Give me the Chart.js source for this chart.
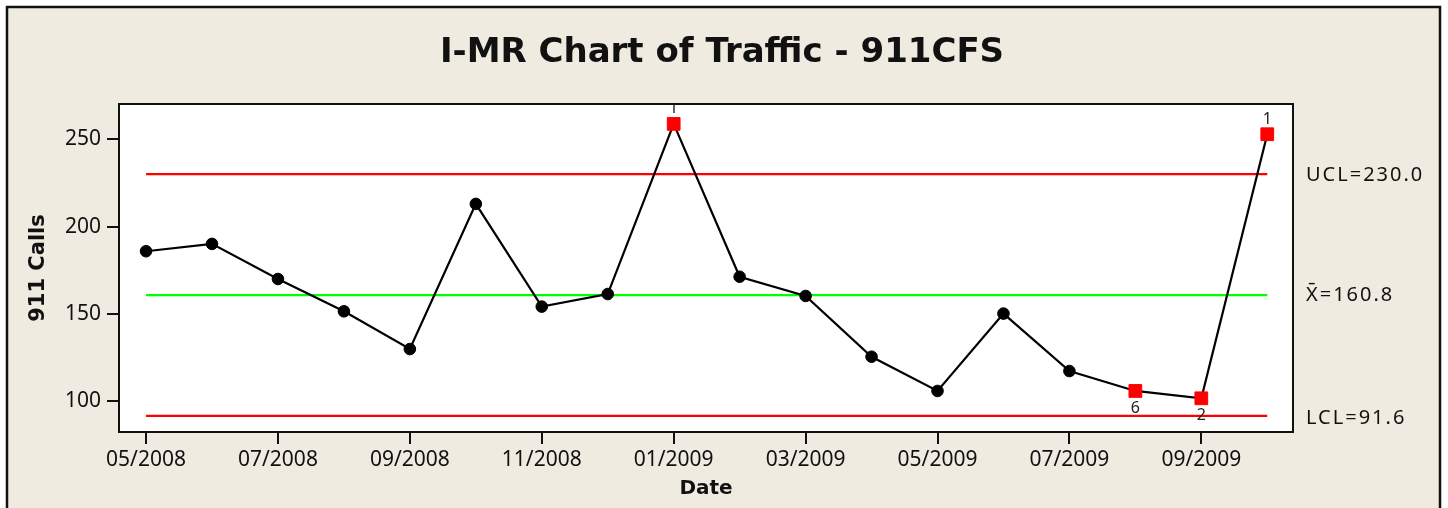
<!DOCTYPE html>
<html>
<head>
<meta charset="utf-8">
<script src="https://cdn.jsdelivr.net/npm/chart.js@4"></script>
<style>
  html, body { margin: 0; padding: 0; background: #fff; }
  #wrap { width: 1448px; height: 508px; }
</style>
</head>
<body>
<div id="wrap"><canvas id="imrChart" width="1448" height="508"></canvas></div>
<script>
// data
const months = ['05/2008', '06/2008', '07/2008', '08/2008', '09/2008', '10/2008', '11/2008', '12/2008',
                '01/2009', '02/2009', '03/2009', '04/2009', '05/2009', '06/2009', '07/2009', '08/2009',
                '09/2009', '10/2009'];
const calls = [185.9, 190.1, 170.0, 151.5, 129.9, 213.0, 154.2, 161.4, 258.8, 171.3,
               160.3, 125.5, 105.9, 150.2, 117.3, 105.9, 101.7, 252.9];
// test flags (Minitab marks failed points with the test number)
const flags = ['', '', '', '', '', '', '', '', '1', '', '', '', '', '', '', '6', '2', '1'];
const yTicks = [100, 150, 200, 250];
const xTicks = [0, 2, 4, 6, 8, 10, 12, 14, 16];
const ucl = 230.0;
const mean = 160.8;
const lcl = 91.6;

const BG = '#efebe0';

// points as {x, y} for the linear x scale
const callPoints = calls.map((v, i) => ({ x: i, y: v }));
const lastIdx = calls.length - 1;
const limitLine = v => [{ x: 0, y: v }, { x: lastIdx, y: v }];

const failed = flags.map(f => f !== '');

// background, frame, plot border and all extra texts
const decorPlugin = {
    id: 'decor',
    beforeDraw(chart) {
        const ctx = chart.ctx;
        const a = chart.chartArea;
        ctx.save();
        ctx.fillStyle = '#fff';
        ctx.fillRect(0, 0, chart.width, chart.height);
        ctx.fillStyle = BG;
        ctx.fillRect(7, 7, 1433, chart.height);
        ctx.strokeStyle = '#111';
        ctx.lineWidth = 2.5;
        ctx.strokeRect(7, 7, 1433, chart.height + 10);
        ctx.fillStyle = '#fff';
        ctx.fillRect(a.left, a.top, a.right - a.left, a.bottom - a.top);
        ctx.restore();
    },
    afterDatasetsDraw(chart) {
        const ctx = chart.ctx;
        const a = chart.chartArea;
        const y = chart.scales.y;
        const meta = chart.getDatasetMeta(0);

        ctx.save();
        // flag numbers next to out-of-control points
        ctx.beginPath();
        ctx.rect(a.left, a.top, a.right - a.left, a.bottom - a.top);
        ctx.clip();
        ctx.font = '16px "Noto Sans"';
        ctx.fillStyle = '#222';
        ctx.textAlign = 'center';
        ctx.textBaseline = 'middle';
        flags.forEach((f, i) => {
            if (!f) return;
            const p = meta.data[i];
            const dy = calls[i] > mean ? -15 : 17;
            ctx.fillText(f, p.x, p.y + dy);
        });
        ctx.restore();

        ctx.save();
        // plot border
        ctx.strokeStyle = '#111';
        ctx.lineWidth = 2;
        ctx.strokeRect(a.left, a.top, a.right - a.left, a.bottom - a.top);

        // control limit labels
        ctx.font = '20px "Noto Sans"';
        ctx.letterSpacing = '2px';
        ctx.fillStyle = '#111';
        ctx.textAlign = 'left';
        ctx.textBaseline = 'middle';
        ctx.fillText('UCL=' + ucl.toFixed(1), a.right + 13, y.getPixelForValue(ucl) + 1);
        ctx.fillText('X\u0304=' + mean.toFixed(1), a.right + 13, y.getPixelForValue(mean));
        ctx.fillText('LCL=' + lcl.toFixed(1), a.right + 13, y.getPixelForValue(lcl) + 2);

        // title
        ctx.letterSpacing = '0px';
        ctx.font = 'bold 34px "DejaVu Sans"';
        ctx.textAlign = 'center';
        ctx.fillText('I-MR Chart of Traffic - 911CFS', 722, 53);
        ctx.restore();
    }
};

const ctx = document.getElementById('imrChart').getContext('2d');
const chart = new Chart(ctx, {
    type: 'line',
    data: {
        datasets: [
            {
                label: '911 Calls',
                data: callPoints,
                borderColor: '#000',
                borderWidth: 2.2,
                pointStyle: failed.map(b => b ? 'rect' : 'circle'),
                pointRadius: failed.map(b => b ? 9 : 5.8),
                pointBackgroundColor: failed.map(b => b ? '#ff0000' : '#000'),
                pointBorderColor: failed.map(b => b ? '#ff0000' : '#000'),
                pointBorderWidth: 1,
                tension: 0
            },
            {
                label: 'UCL',
                data: limitLine(ucl),
                borderColor: '#ff0000',
                borderWidth: 2.2,
                pointRadius: 0
            },
            {
                label: 'Mean',
                data: limitLine(mean),
                borderColor: '#00ff00',
                borderWidth: 2.2,
                pointRadius: 0
            },
            {
                label: 'LCL',
                data: limitLine(lcl),
                borderColor: '#ff0000',
                borderWidth: 2.2,
                pointRadius: 0
            }
        ]
    },
    options: {
        responsive: false,
        animation: false,
        events: [],
        layout: {
            padding: { top: 104, right: 155, left: 0, bottom: 0 }
        },
        plugins: {
            legend: { display: false },
            tooltip: { enabled: false }
        },
        scales: {
            x: {
                type: 'linear',
                min: -0.41,
                max: 17.39,
                afterFit: scale => { scale.height = 76; },
                afterBuildTicks: scale => { scale.ticks = xTicks.map(v => ({ value: v })); },
                grid: {
                    display: true,
                    drawOnChartArea: false,
                    drawTicks: true,
                    tickLength: 12,
                    color: '#111',
                    lineWidth: 2
                },
                border: { display: false },
                ticks: {
                    autoSkip: false,
                    maxRotation: 0,
                    padding: 3,
                    color: '#111',
                    font: { family: 'Noto Sans', size: 21 },
                    callback: v => months[v]
                },
                title: {
                    display: true,
                    text: 'Date',
                    color: '#111',
                    font: { family: 'DejaVu Sans', size: 20, weight: 'bold' },
                    padding: { top: 0, bottom: 7 }
                }
            },
            y: {
                min: 82.4,
                max: 270.2,
                afterFit: scale => { scale.width = 119; },
                afterBuildTicks: scale => { scale.ticks = yTicks.map(v => ({ value: v })); },
                grid: {
                    display: true,
                    drawOnChartArea: false,
                    drawTicks: true,
                    tickLength: 12,
                    color: '#111',
                    lineWidth: 2
                },
                border: { display: false },
                ticks: {
                    padding: 6,
                    color: '#111',
                    font: { family: 'Noto Sans', size: 21 }
                },
                title: {
                    display: true,
                    text: '911 Calls',
                    color: '#111',
                    font: { family: 'DejaVu Sans', size: 21, weight: 'bold' },
                    padding: { top: 26, bottom: 0 }
                }
            }
        }
    },
    plugins: [decorPlugin]
});
</script>
</body>
</html>
